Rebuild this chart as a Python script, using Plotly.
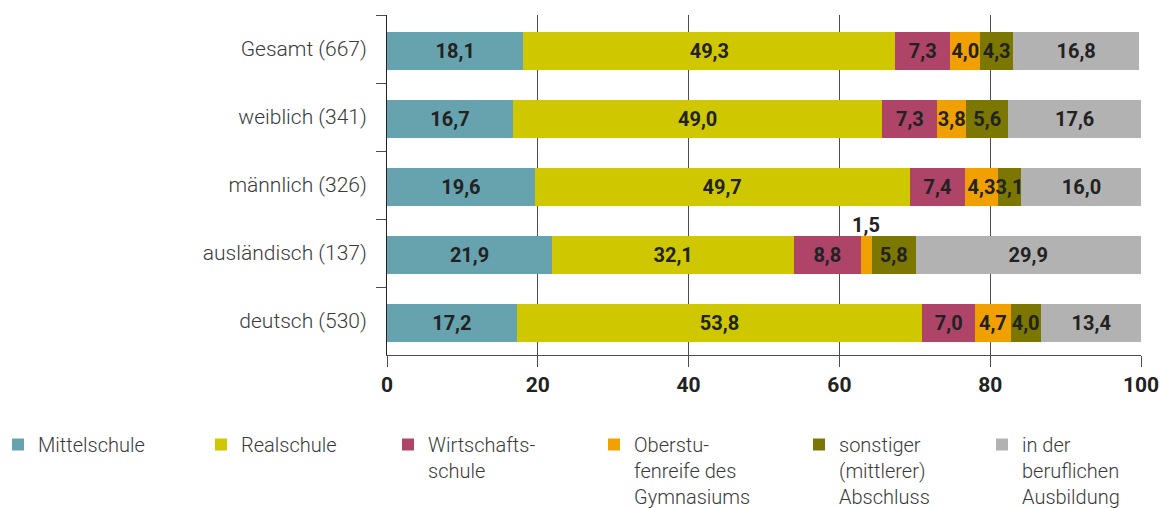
import plotly.graph_objects as go

# Gruppen (Zeilen von oben nach unten)
groups = ["Gesamt (667)", "weiblich (341)", "männlich (326)", "ausländisch (137)", "deutsch (530)"]

# Anteile in Prozent je Abschlussart
mittelschule = [18.1, 16.7, 19.6, 21.9, 17.2]
realschule = [49.3, 49.0, 49.7, 32.1, 53.8]
wirtschaftsschule = [7.3, 7.3, 7.4, 8.8, 7.0]
oberstufenreife = [4.0, 3.8, 4.3, 1.5, 4.7]
sonstiger = [4.3, 5.6, 3.1, 5.8, 4.0]
ausbildung = [16.8, 17.6, 16.0, 29.9, 13.4]

series = [
    ("Mittelschule", mittelschule, "#67a3af"),
    ("Realschule", realschule, "#cfc800"),
    ("Wirtschafts-<br>schule", wirtschaftsschule, "#ae4468"),
    ("Oberstu-<br>fenreife des<br>Gymnasiums", oberstufenreife, "#f0a000"),
    ("sonstiger<br>(mittlerer)<br>Abschluss", sonstiger, "#7b7700"),
    ("in der<br>beruflichen<br>Ausbildung", ausbildung, "#b2b2b2"),
]

# Linke Kante der Legendeneinträge (Pixel)
legend_left_px = [-2, 201, 388, 594, 799, 982]
legend_top_px = 425

W, H = 1160, 508
M_L, M_R, M_T, M_B = 387, 19, 15, 153
PW = W - M_L - M_R
PH = H - M_T - M_B

FONT = "Roboto"
TXT = "#3a3a3a"
DARK = "#222222"
SMALL = 2.0  # darunter steht der Wert über dem Balken
BAR_W = 0.56


def fmt(v):
    return f"{v:.1f}".replace(".", ",")


fig = go.Figure()
legend_names = ["legend"] + [f"legend{i}" for i in range(2, 7)]

for i, (name, vals, color) in enumerate(series):
    labels = [fmt(v) if v >= SMALL else "" for v in vals]
    fig.add_trace(go.Bar(
        y=groups, x=vals, name=name, orientation="h",
        marker=dict(color=color, line=dict(width=0)),
        width=BAR_W, offset=-BAR_W / 2 + 0.025,
        text=labels, textposition="inside", insidetextanchor="middle",
        textangle=0, constraintext="none",
        textfont=dict(family=FONT, size=20, color=DARK, weight="bold"),
        legend=legend_names[i],
        hoverinfo="skip",
    ))

# Werte kleiner Segmente oberhalb des Balkens
cum = [0.0] * len(groups)
for name, vals, color in series:
    for j, v in enumerate(vals):
        if v < SMALL:
            fig.add_annotation(
                x=cum[j] + v / 2, y=groups[j], text=fmt(v), showarrow=False,
                yshift=28, font=dict(family=FONT, size=20, color=DARK, weight="bold"),
            )
        cum[j] += v

legend_layout = {}
for i, key in enumerate(legend_names):
    legend_layout[key] = dict(
        x=(legend_left_px[i] - M_L) / PW,
        y=-(legend_top_px - (M_T + PH)) / PH,
        xanchor="left", yanchor="top",
        orientation="v", valign="top",
        bgcolor="rgba(0,0,0,0)", borderwidth=0,
        font=dict(family=FONT, size=20, color=TXT, weight=300),
    )

fig.update_layout(
    width=W, height=H,
    margin=dict(l=M_L, r=M_R, t=M_T, b=M_B, autoexpand=False),
    barmode="stack",
    separators=",.",
    plot_bgcolor="white", paper_bgcolor="white",
    showlegend=True,
    xaxis=dict(
        range=[0, 100], tickvals=[0, 20, 40, 60, 80, 100],
        showgrid=True, gridcolor="#4d4d4d", gridwidth=1,
        ticks="outside", ticklen=11, tickcolor="#4d4d4d", tickwidth=1,
        showline=True, linecolor="#4d4d4d", linewidth=1,
        zeroline=False,
        tickfont=dict(family=FONT, size=21, color=DARK, weight="bold"),
        fixedrange=True,
    ),
    yaxis=dict(
        categoryorder="array", categoryarray=groups, autorange="reversed",
        showgrid=False, zeroline=False,
        showline=True, linecolor="#222222", linewidth=1,
        ticks="outside", tickson="boundaries", ticklen=10,
        tickcolor="#4d4d4d", tickwidth=1,
        ticklabelstandoff=15,
        tickfont=dict(family=FONT, size=21, color=TXT, weight=300),
        fixedrange=True,
    ),
    **legend_layout,
)

fig.write_html("out.html")
